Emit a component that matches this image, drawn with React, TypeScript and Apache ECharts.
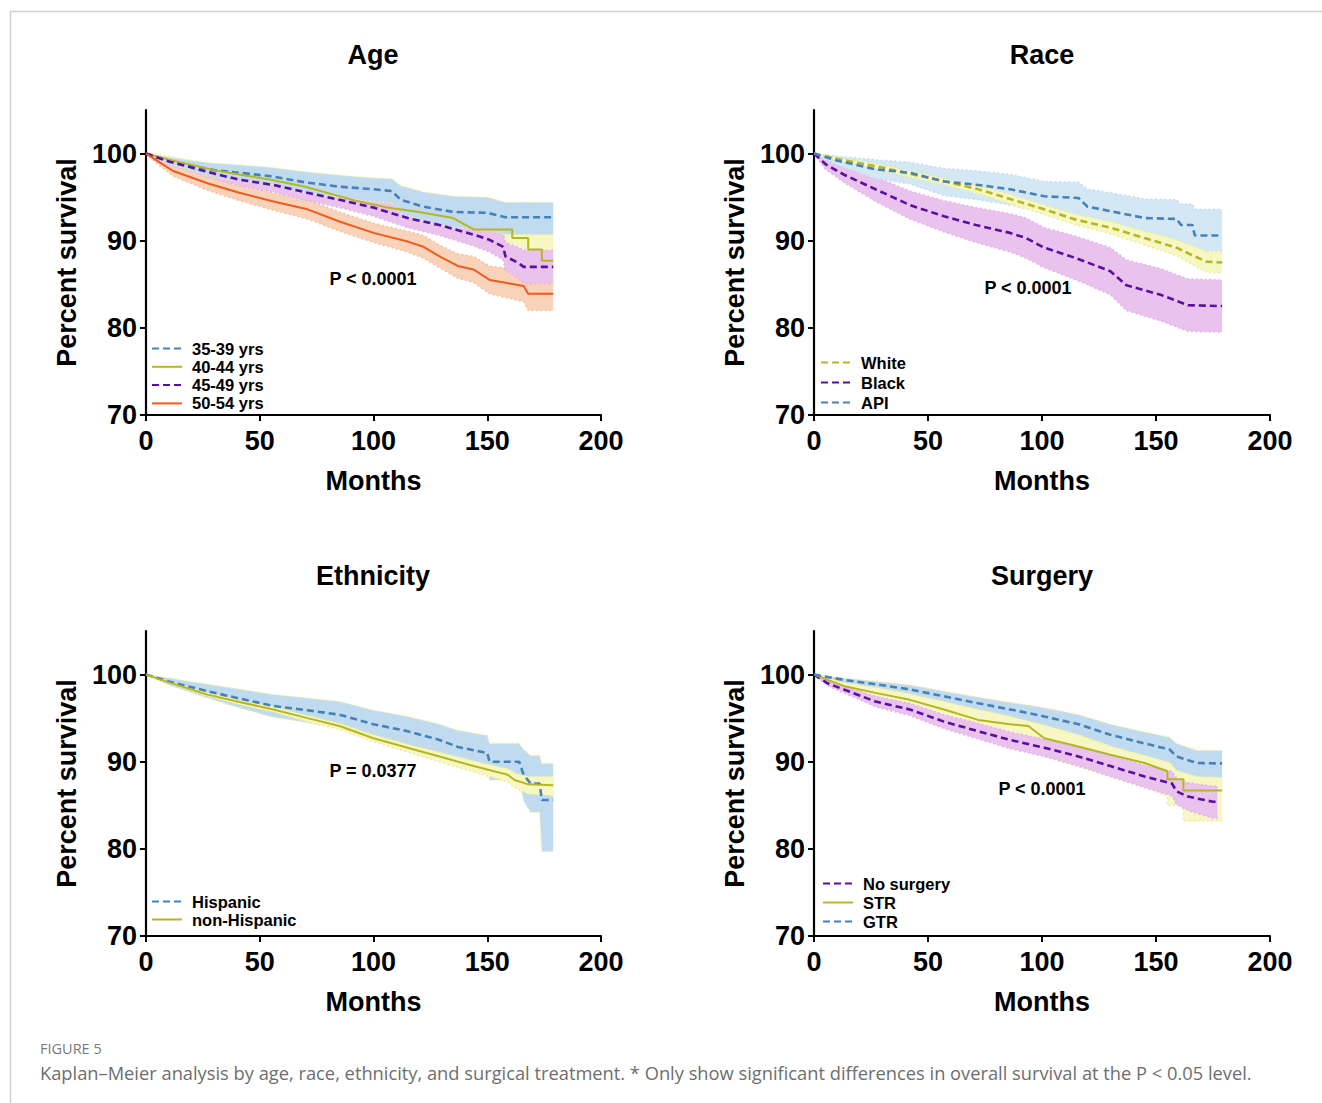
import React, { useEffect, useRef } from "react";
import * as echarts from "echarts";

const FONT = "Arial, Liberation Sans, Helvetica, sans-serif";
const CAPTION_FONT = "Open Sans, Noto Sans, sans-serif";

// ---------- Colors ----------
const BLUE = "#4682b8";
const OLIVE = "#b6b622";
const PURPLE = "#5a0ea2";
const ORANGE = "#f05a1a";
const BLUE_BAND = "#c0daf0";
const OLIVE_BAND = "#f6f7c2";
const PURPLE_BAND = "#e9c2ee";
const ORANGE_BAND = "#f8d3ba";

// ---------- Axis ticks ----------
const xTicks = [0, 50, 100, 150, 200];
const yTicks = [70, 80, 90, 100];

// ---------- Panel titles / notes ----------
const panelTitles = ["Age", "Race", "Ethnicity", "Surgery"];
const pValues = ["P < 0.0001", "P < 0.0001", "P = 0.0377", "P < 0.0001"];

// ---------- Age ----------
const age35Name = "35-39 yrs";
const age35M = [0, 10, 20, 30, 41, 55, 70, 85, 100, 108, 112, 122, 135, 150, 158, 179];
const age35S = [100, 99.2, 98.6, 98.1, 97.8, 97.4, 96.7, 96.2, 95.9, 95.7, 94.7, 93.9, 93.3, 93.2, 92.7, 92.7];
const age35Up = [100, 99.6, 99.2, 98.9, 98.7, 98.4, 97.9, 97.5, 97.2, 97.1, 96.3, 95.6, 95.1, 95.0, 94.4, 94.4];
const age35Lo = [100, 98.8, 98.0, 97.3, 96.9, 96.4, 95.5, 94.9, 94.5, 94.3, 93.1, 92.2, 91.5, 91.3, 90.7, 90.7];

const age40Name = "40-44 yrs";
const age40M = [0, 10, 20, 30, 41, 55, 70, 92, 106, 120, 135, 144, 161, 161, 168, 168, 174, 174, 179];
const age40S = [100, 99.3, 98.7, 98.1, 97.6, 97.0, 96.2, 94.6, 93.8, 93.3, 92.6, 91.3, 91.3, 90.3, 90.3, 89.0, 89.0, 87.7, 87.7];
const age40Up = [100, 99.7, 99.2, 98.7, 98.3, 97.8, 97.1, 95.6, 94.9, 94.5, 93.9, 92.8, 92.9, 92.0, 92.1, 91.0, 91.1, 90.7, 90.7];
const age40Lo = [100, 98.9, 98.2, 97.5, 96.9, 96.2, 95.3, 93.6, 92.7, 92.1, 91.3, 89.8, 89.7, 88.6, 88.5, 87.0, 86.9, 84.6, 84.6];

const age45Name = "45-49 yrs";
const age45M = [0, 10, 20, 30, 41, 56, 71, 85, 100, 115, 129, 144, 151, 157, 158, 164, 166, 179];
const age45S = [100, 99.1, 98.4, 97.7, 97.0, 96.4, 95.5, 94.7, 93.8, 92.6, 91.8, 90.7, 90.1, 89.3, 88.2, 87.4, 87.0, 87.0];
const age45Up = [100, 99.5, 98.9, 98.3, 97.7, 97.2, 96.4, 95.6, 94.8, 93.7, 93.0, 92.0, 91.5, 90.8, 89.8, 89.2, 88.9, 88.9];
const age45Lo = [100, 98.7, 97.9, 97.1, 96.3, 95.6, 94.6, 93.8, 92.8, 91.5, 90.6, 89.4, 88.7, 87.8, 86.6, 85.6, 85.1, 85.1];

const age50Name = "50-54 yrs";
const age50M = [0, 6, 12, 27, 41, 56, 71, 85, 100, 115, 122, 129, 137, 144, 151, 166, 168, 179];
const age50S = [100, 99.0, 98.0, 96.6, 95.5, 94.5, 93.6, 92.2, 90.9, 89.9, 89.3, 88.2, 87.1, 86.7, 85.5, 84.8, 83.9, 83.9];
const age50Up = [100, 99.4, 98.6, 97.4, 96.4, 95.5, 94.7, 93.3, 92.0, 91.1, 90.6, 89.5, 88.5, 88.2, 87.1, 86.6, 85.8, 85.8];
const age50Lo = [100, 98.6, 97.4, 95.8, 94.6, 93.5, 92.5, 91.1, 89.8, 88.7, 88.0, 86.9, 85.7, 85.2, 83.9, 83.0, 82.0, 82.0];

// ---------- Race ----------
const whiteName = "White";
const whiteM = [0, 10, 20, 28, 40, 56, 72, 86, 101, 115, 130, 145, 159, 167, 172, 179];
const whiteS = [100, 99.4, 98.9, 98.5, 97.8, 96.9, 95.9, 94.8, 93.6, 92.4, 91.5, 90.3, 89.2, 88.2, 87.6, 87.5];
const whiteUp = [100, 99.5, 99.1, 98.8, 98.1, 97.2, 96.3, 95.3, 94.1, 93.0, 92.2, 91.1, 90.1, 89.3, 88.8, 88.7];
const whiteLo = [100, 99.2, 98.7, 98.2, 97.4, 96.5, 95.4, 94.2, 93.0, 91.8, 90.8, 89.5, 88.3, 87.1, 86.4, 86.3];

const blackName = "Black";
const blackM = [0, 5, 13, 27, 42, 57, 71, 86, 93, 101, 115, 130, 137, 152, 164, 179];
const blackS = [100, 98.8, 97.6, 95.9, 94.1, 92.8, 91.8, 90.9, 90.3, 89.2, 88.0, 86.5, 84.9, 83.8, 82.6, 82.5];
const blackUp = [100, 99.3, 98.5, 97.3, 95.7, 94.6, 93.8, 93.1, 92.6, 91.5, 90.5, 89.2, 87.8, 86.8, 85.6, 85.5];
const blackLo = [100, 98.2, 96.7, 94.5, 92.5, 91.0, 89.8, 88.7, 88.0, 86.9, 85.5, 83.8, 82.0, 80.8, 79.6, 79.5];

const apiName = "API";
const apiM = [0, 10, 27, 42, 57, 72, 86, 101, 116, 120, 130, 145, 159, 161, 166, 167, 179];
const apiS = [100, 99.2, 98.2, 97.8, 96.8, 96.4, 95.9, 95.1, 94.9, 93.9, 93.4, 92.6, 92.5, 91.8, 91.8, 90.6, 90.6];
const apiUp = [100, 99.7, 99.3, 99.0, 98.3, 98.0, 97.6, 96.8, 96.7, 95.9, 95.5, 94.8, 94.7, 94.2, 94.2, 93.6, 93.6];
const apiLo = [100, 98.7, 97.1, 96.5, 95.2, 94.7, 94.1, 93.3, 93.0, 91.8, 91.2, 90.3, 90.1, 89.3, 89.3, 88.8, 88.8];

// ---------- Ethnicity ----------
const hispName = "Hispanic";
const hispM = [0, 10, 27, 42, 56, 71, 85, 100, 115, 129, 137, 150, 151, 164, 166, 169, 173, 174, 179];
const hispS = [100, 99.2, 98.1, 97.2, 96.4, 95.9, 95.4, 94.3, 93.5, 92.5, 91.7, 91.0, 90.0, 90.0, 88.5, 87.5, 87.5, 85.6, 85.6];
const hispUp = [100, 99.6, 98.9, 98.3, 97.7, 97.3, 96.9, 95.9, 95.2, 94.3, 93.6, 93.0, 92.1, 92.1, 91.4, 90.7, 90.7, 89.8, 89.8];
const hispLo = [100, 98.8, 97.3, 96.1, 95.1, 94.5, 93.8, 92.7, 91.7, 90.6, 89.7, 88.9, 87.9, 87.9, 85.5, 84.2, 84.2, 79.7, 79.7];

const nonHispName = "non-Hispanic";
const nonHispM = [0, 10, 27, 42, 56, 71, 85, 100, 115, 129, 144, 159, 162, 168, 179];
const nonHispS = [100, 99.1, 97.7, 96.8, 96.0, 95.0, 94.1, 92.7, 91.6, 90.6, 89.5, 88.5, 87.9, 87.4, 87.3];
const nonHispUp = [100, 99.2, 97.9, 97.0, 96.3, 95.3, 94.4, 93.1, 92.0, 91.1, 90.1, 89.2, 88.7, 88.3, 88.3];
const nonHispLo = [100, 99.0, 97.5, 96.5, 95.7, 94.6, 93.7, 92.3, 91.1, 90.0, 88.8, 87.7, 87.0, 86.3, 86.1];

// ---------- Surgery ----------
const noSurgName = "No surgery";
const noSurgM = [0, 6, 13, 27, 42, 57, 72, 86, 101, 116, 130, 145, 157, 159, 164, 175, 177];
const noSurgS = [100, 99.0, 98.3, 96.9, 96.0, 94.6, 93.5, 92.5, 91.6, 90.6, 89.5, 88.3, 87.5, 86.6, 86.0, 85.4, 85.4];
const noSurgUp = [100, 99.3, 98.7, 97.5, 96.7, 95.4, 94.4, 93.4, 92.6, 91.7, 90.7, 89.6, 88.9, 88.1, 87.6, 87.2, 87.2];
const noSurgLo = [100, 98.7, 97.9, 96.3, 95.3, 93.8, 92.6, 91.5, 90.6, 89.5, 88.3, 87.0, 86.1, 85.1, 84.4, 83.5, 83.5];

const strName = "STR";
const strM = [0, 13, 27, 42, 57, 72, 86, 94, 101, 115, 130, 145, 155, 155, 162, 162, 179];
const strS = [100, 98.7, 97.9, 97.1, 96.0, 94.8, 94.3, 94.1, 92.7, 91.8, 90.8, 89.85, 88.9, 88.0, 88.0, 86.7, 86.7];
const strUp = [100, 99.3, 98.8, 98.3, 97.5, 96.6, 96.2, 96.0, 94.8, 94.1, 93.2, 92.4, 91.6, 90.8, 90.8, 89.0, 89.0];
const strLo = [100, 98.0, 96.9, 95.8, 94.4, 93.0, 92.4, 92.1, 90.6, 89.5, 88.3, 87.2, 86.0, 85.0, 85.0, 83.2, 83.2];

const gtrName = "GTR";
const gtrM = [0, 13, 28, 42, 57, 72, 86, 101, 116, 130, 145, 156, 159, 168, 179];
const gtrS = [100, 99.4, 98.85, 98.3, 97.5, 96.7, 96.0, 95.2, 94.3, 93.1, 92.1, 91.4, 90.6, 89.85, 89.8];
const gtrUp = [100, 99.6, 99.2, 98.8, 98.1, 97.4, 96.8, 96.2, 95.4, 94.3, 93.4, 92.8, 92.1, 91.3, 91.3];
const gtrLo = [100, 99.1, 98.5, 97.8, 96.9, 96.0, 95.2, 94.2, 93.1, 91.8, 90.7, 89.9, 89.0, 88.3, 88.2];

const captionLabel = "FIGURE 5";
const captionText =
  "Kaplan\u2013Meier analysis by age, race, ethnicity, and surgical treatment. * Only show significant differences in overall survival at the P < 0.05 level.";

// ---------- Layout ----------
const grids = [
  { left: 146, top: 110, width: 455, height: 305 },
  { left: 814, top: 110, width: 456, height: 305 },
  { left: 146, top: 631, width: 455, height: 305 },
  { left: 814, top: 631, width: 456, height: 305 },
];

function bandSeries(gi: number, m: number[], lo: number[], up: number[], fill: string, edge: string) {
  return {
    type: "custom",
    xAxisIndex: gi,
    yAxisIndex: gi,
    silent: true,
    z: 1,
    clip: true,
    data: m.map((x, i) => [x, lo[i], up[i]]),
    encode: { x: 0, y: [1, 2] },
    renderItem: (params: any, api: any) => {
      if (params.dataIndex !== 0) return null;
      const upper = m.map((x, i) => api.coord([x, up[i]]));
      const lower = m.map((x, i) => api.coord([x, lo[i]]));
      const poly = upper.concat(lower.slice().reverse());
      return {
        type: "group",
        children: [
          { type: "polygon", shape: { points: poly }, style: { fill, stroke: null } },
          { type: "polyline", shape: { points: upper }, style: { fill: null, stroke: edge, lineWidth: 1.6, lineDash: [1.5, 3] } },
          { type: "polyline", shape: { points: lower }, style: { fill: null, stroke: edge, lineWidth: 1.6, lineDash: [1.5, 3] } },
        ],
      };
    },
  };
}

function lineSeries(gi: number, name: string, m: number[], s: number[], color: string, dashed: boolean) {
  return {
    type: "line",
    name,
    xAxisIndex: gi,
    yAxisIndex: gi,
    data: m.map((x, i) => [x, s[i]]),
    symbol: "none",
    showSymbol: false,
    z: 5,
    lineStyle: { color, width: dashed ? 2.6 : 2, type: dashed ? [7, 4] : "solid" },
    itemStyle: { color },
  };
}

export default function App() {
  const ref = useRef<HTMLDivElement>(null);

  useEffect(() => {
    if (!ref.current) return;
    const chart = echarts.init(ref.current, undefined, { renderer: "svg" });

    const xAxes = grids.map((_, i) => ({
      type: "value",
      gridIndex: i,
      min: 0,
      max: 200,
      interval: 50,
      name: "Months",
      nameLocation: "middle",
      nameGap: 52,
      nameTextStyle: { fontFamily: FONT, fontWeight: "bold", fontSize: 27, color: "#000" },
      axisLine: { show: true, onZero: false, lineStyle: { color: "#000", width: 2.2 } },
      axisTick: { show: true, inside: false, length: 6, lineStyle: { color: "#000", width: 2 }, customValues: xTicks },
      axisLabel: { fontFamily: FONT, fontWeight: "bold", fontSize: 27, color: "#000", margin: 12, customValues: xTicks },
      splitLine: { show: false },
    }));

    const yAxes = grids.map((_, i) => ({
      type: "value",
      gridIndex: i,
      min: 70,
      max: 105,
      interval: 10,
      name: "Percent survival",
      nameLocation: "middle",
      nameGap: 66,
      nameTextStyle: { fontFamily: FONT, fontWeight: "bold", fontSize: 27, color: "#000" },
      axisLine: { show: true, onZero: false, lineStyle: { color: "#000", width: 2.2 } },
      axisTick: { show: true, inside: false, length: 6, lineStyle: { color: "#000", width: 2 }, customValues: yTicks },
      axisLabel: { fontFamily: FONT, fontWeight: "bold", fontSize: 27, color: "#000", margin: 9, customValues: yTicks },
      splitLine: { show: false },
    }));

    const series: any[] = [
      // Age bands
      bandSeries(0, age40M, age40Lo, age40Up, OLIVE_BAND, "#ecee8a"),
      bandSeries(0, age50M, age50Lo, age50Up, ORANGE_BAND, "#f4bd98"),
      bandSeries(0, age45M, age45Lo, age45Up, PURPLE_BAND, "#e3aee8"),
      bandSeries(0, age35M, age35Lo, age35Up, BLUE_BAND, "#f2f29a"),
      lineSeries(0, age35Name, age35M, age35S, BLUE, true),
      lineSeries(0, age40Name, age40M, age40S, OLIVE, false),
      lineSeries(0, age45Name, age45M, age45S, PURPLE, true),
      lineSeries(0, age50Name, age50M, age50S, ORANGE, false),
      // Race bands
      bandSeries(1, blackM, blackLo, blackUp, PURPLE_BAND, "#e3aee8"),
      bandSeries(1, apiM, apiLo, apiUp, "#d4e7f5", "#c0daf0"),
      bandSeries(1, whiteM, whiteLo, whiteUp, OLIVE_BAND, "#ecee8a"),
      lineSeries(1, whiteName, whiteM, whiteS, OLIVE, true),
      lineSeries(1, blackName, blackM, blackS, PURPLE, true),
      lineSeries(1, apiName, apiM, apiS, BLUE, true),
      // Ethnicity bands
      bandSeries(2, hispM, hispLo, hispUp, BLUE_BAND, "#f2f29a"),
      bandSeries(2, nonHispM, nonHispLo, nonHispUp, OLIVE_BAND, "#ecee8a"),
      lineSeries(2, hispName, hispM, hispS, BLUE, true),
      lineSeries(2, nonHispName, nonHispM, nonHispS, OLIVE, false),
      // Surgery bands
      bandSeries(3, strM, strLo, strUp, OLIVE_BAND, "#ecee8a"),
      bandSeries(3, noSurgM, noSurgLo, noSurgUp, PURPLE_BAND, "#e3aee8"),
      bandSeries(3, gtrM, gtrLo, gtrUp, BLUE_BAND, "#f2f29a"),
      lineSeries(3, noSurgName, noSurgM, noSurgS, PURPLE, true),
      lineSeries(3, strName, strM, strS, OLIVE, false),
      lineSeries(3, gtrName, gtrM, gtrS, BLUE, true),
    ];

    const legendBase = {
      orient: "vertical",
      itemWidth: 30,
      itemHeight: 14,
      padding: 0,
      textStyle: { fontFamily: FONT, fontWeight: "bold", fontSize: 16.5, color: "#000", lineHeight: 17, padding: [0, 0, 0, 5] },
      itemStyle: { color: "transparent", borderColor: "transparent", borderWidth: 0 },
      selectedMode: false,
    };

    const legends = [
      { ...legendBase, left: 151, top: 340, itemGap: 1.3, data: [age35Name, age40Name, age45Name, age50Name] },
      { ...legendBase, left: 820, top: 354, itemGap: 3, data: [whiteName, blackName, apiName] },
      { ...legendBase, left: 151, top: 893, itemGap: 1, data: [hispName, nonHispName] },
      { ...legendBase, left: 822, top: 875, itemGap: 2, data: [noSurgName, strName, gtrName] },
    ];

    const titleCenters = [
      [373, 55],
      [1042, 55],
      [373, 576],
      [1042, 576],
    ];
    const pCenters = [
      [373, 279],
      [1028, 288],
      [373, 771],
      [1042, 789],
    ];

    const graphics: any[] = [
      { type: "line", shape: { x1: 10, y1: 11.5, x2: 1322, y2: 11.5 }, style: { stroke: "#d0d0d0", lineWidth: 1.5 } },
      { type: "line", shape: { x1: 10.5, y1: 11, x2: 10.5, y2: 1103 }, style: { stroke: "#d0d0d0", lineWidth: 1.5 } },
      ...panelTitles.map((t, i) => ({
        type: "text",
        x: titleCenters[i][0],
        y: titleCenters[i][1],
        style: { text: t, fontFamily: FONT, fontWeight: "bold", fontSize: 27, fill: "#000", textAlign: "center", textVerticalAlign: "middle" },
      })),
      ...pValues.map((t, i) => ({
        type: "text",
        x: pCenters[i][0],
        y: pCenters[i][1],
        z: 10,
        style: { text: t, fontFamily: FONT, fontWeight: "bold", fontSize: 18, fill: "#000", textAlign: "center", textVerticalAlign: "middle" },
      })),
      {
        type: "text",
        x: 40,
        y: 1048,
        style: { text: captionLabel, fontFamily: CAPTION_FONT, fontSize: 14.5, fill: "#7a7a7a", textAlign: "left", textVerticalAlign: "middle" },
      },
      {
        type: "text",
        x: 40,
        y: 1072,
        style: { text: captionText, fontFamily: CAPTION_FONT, fontSize: 18.3, fill: "#6e6e6e", textAlign: "left", textVerticalAlign: "middle" },
      },
    ];

    chart.setOption({
      animation: false,
      backgroundColor: "#fff",
      grid: grids.map((g) => ({ ...g, containLabel: false })),
      xAxis: xAxes,
      yAxis: yAxes,
      legend: legends,
      series,
      graphic: graphics,
    });

    return () => chart.dispose();
  }, []);

  return <div ref={ref} style={{ position: "fixed", left: 0, top: 0, width: 1322, height: 1103 }} />;
}
